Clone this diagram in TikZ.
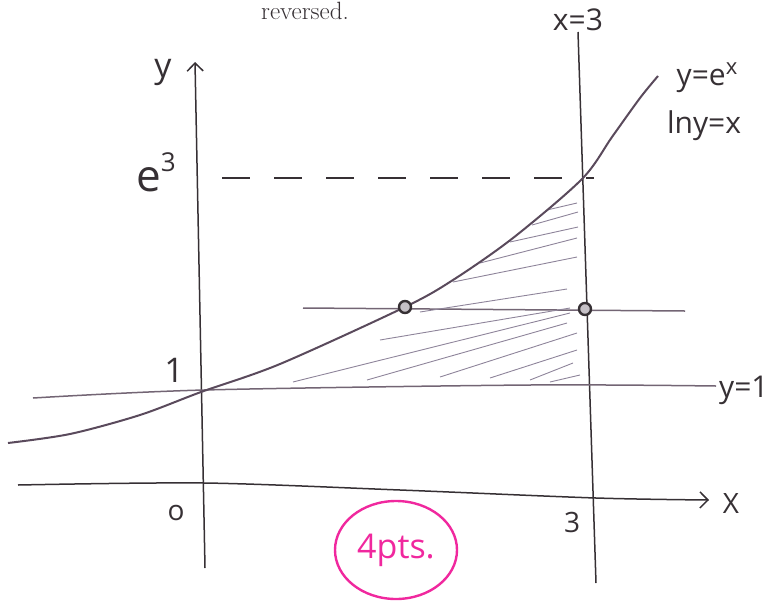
\documentclass[tikz,border=0pt]{standalone}
\usepackage{fontspec}
\newfontfamily\hand{Open Sans}
\usetikzlibrary{arrows.meta}
\definecolor{pencil}{HTML}{363034}
\definecolor{curvecol}{HTML}{5A4A5C}
\definecolor{hatchcol}{HTML}{8E849A}
\definecolor{marker}{HTML}{F0289E}

\begin{document}
\begin{tikzpicture}[x=1pt,y=-1pt,
  axis/.style={draw=pencil,line width=1.5pt},
  barb/.style={-{Straight Barb[length=8pt,width=16pt,line width=1.5pt]}},
  graph/.style={draw=curvecol,line width=2pt},
  level/.style={draw=curvecol!85,line width=1.5pt},
  hatch/.style={draw=hatchcol,line width=0.9pt},
  lbl/.style={text=pencil,inner sep=0pt,font=\hand\fontsize{30}{30}\selectfont},
  dotc/.style={circle,draw=pencil,line width=2.4pt,fill=curvecol!35,minimum size=12pt,inner sep=0pt}]
  \useasboundingbox (0,0) rectangle (774,611);
  \clip (0,0) rectangle (774,611);
  % text at the top
  \node[anchor=north,inner sep=0pt,text=pencil] (rev) at (305,2) {\fontsize{25}{26}\selectfont reversed.};
  % axes
  \coordinate (ybot) at (205,568);
  \coordinate (ytop) at (195,62);
  \draw[axis,barb] (ybot) -- (ytop);
  \coordinate (xl) at (18,485);
  \coordinate (xr) at (709,500);
  \draw[axis,barb] plot[smooth] coordinates {(xl) (204,483) (400,490) (596,498) (xr)};
  % the line x=3
  \coordinate (vtop) at (578,32);
  \coordinate (vbot) at (596,583);
  \draw[axis] (vtop) -- (vbot);
  % level lines
  \coordinate (one l) at (33,398);
  \coordinate (one r) at (716,386);
  \draw[level] plot[smooth] coordinates {(one l) (204,390) (530,385) (one r)};
  \coordinate (mid l) at (303,308);
  \coordinate (mid r) at (685,311);
  \draw[level] (mid l) -- (mid r);
  \coordinate (e3l) at (222,178);
  \coordinate (e3r) at (594,178);
  \draw[draw=pencil,line width=1.2pt,dash pattern=on 28pt off 24pt] (e3l) -- (e3r);
  % hatching
  \foreach \xa/\ya/\xb/\yb in {547/210/577/203, 532/225/578/212, 510/242/578/227,
      480/263/577/238, 453/282/577/257, 420/312/567/289, 380/340/570/308,
      293/382/570/313, 367/380/567/323, 440/377/577/333, 490/378/577/350,
      530/380/573/363, 550/382/580/375}
    \draw[hatch] (\xa,\ya) -- (\xb,\yb);
  % y = e^x
  \draw[graph] plot[smooth,tension=0.5] coordinates {(8,443) (70,434) (140,415) (201,392)
      (280,364) (405,307) (453,280) (513,238) (582,179) (612,137) (640,98) (658,76)};
  \node[dotc] (p1) at (405,307) {};
  \node[dotc] (p2) at (585,309) {};
  % labels
  \node[lbl,font=\hand\fontsize{34}{34}\selectfont] (ylab) at (163,72) {y};
  \node[lbl] (e3) at (156,172) {\fontsize{44}{44}\selectfont e\raisebox{20pt}{\fontsize{26}{26}\selectfont 3}};
  \node[lbl,font=\hand\fontsize{34}{34}\selectfont] (one) at (174,370) {1};
  \node[lbl,font=\hand\fontsize{28}{28}\selectfont] (zero) at (176,513) {o};
  \node[lbl,font=\hand\fontsize{28}{28}\selectfont] (three) at (572,522) {3};
  \node[lbl,font=\hand\fontsize{28}{28}\selectfont] (xlab) at (731,503) {X};
  \node[lbl] (xeq) at (578,20) {x=3};
  \node[lbl] (expl) at (707,78) {y=e\raisebox{11pt}{\fontsize{22}{22}\selectfont x}};
  \node[lbl] (lnl) at (704,126) {lny=x};
  \node[lbl,anchor=west] (yone) at (719,390) {y=1};
  % grade
  \node[text=marker,font=\hand\fontsize{34}{34}\selectfont,inner sep=0pt] (pts) at (396,550) {4pts.};
  \draw[draw=marker,line width=2.4pt] (pts) ellipse (61pt and 49pt);
\end{tikzpicture}
\end{document}
